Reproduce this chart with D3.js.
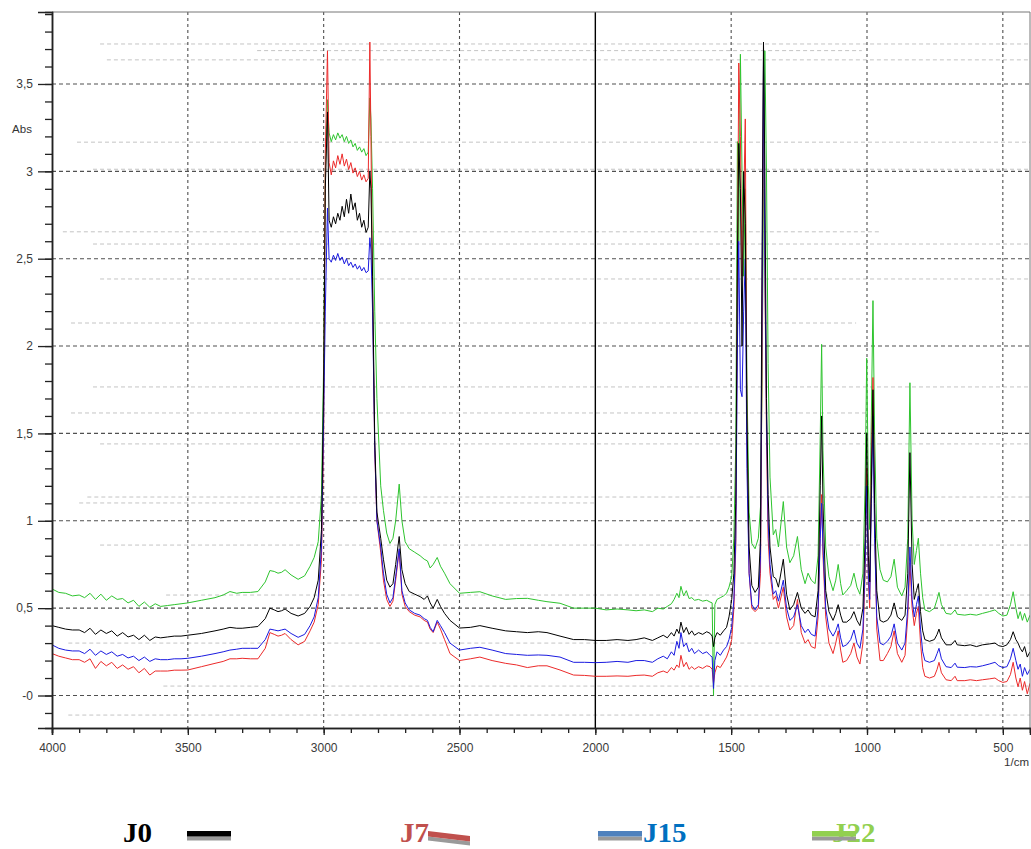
<!DOCTYPE html>
<html>
<head>
<meta charset="utf-8">
<script src="https://cdn.jsdelivr.net/npm/d3@7"></script>
<style>
html, body { margin: 0; padding: 0; background: #fff; }
svg { display: block; }
</style>
</head>
<body>
<svg width="1031" height="849"></svg>
<script>
// wavenumbers (1/cm), shared by the four spectra
const wavenumbers = [
  // 4000 - 3000
  4000, 3975, 3950, 3925, 3900, 3880, 3860, 3840, 3820, 3800,
  3780, 3760, 3740, 3720, 3700, 3680, 3660, 3640, 3620, 3600,
  3575, 3550, 3525, 3500, 3450, 3400, 3370, 3345, 3320, 3300,
  3270, 3242, 3215, 3198, 3182, 3168, 3155, 3142, 3120, 3094,
  3070, 3050, 3035, 3020, 3008, 3000,
  // C-H band
  2994, 2986, 2980, 2972, 2964, 2956, 2948, 2940, 2932, 2924,
  2916, 2908, 2900, 2892, 2884, 2876, 2868, 2860, 2852, 2844,
  2836, 2830, 2826, 2820, 2812, 2804,
  // 2800 - 2000
  2790, 2780, 2768, 2756, 2745, 2735, 2722, 2712, 2700, 2685,
  2665, 2645, 2630, 2618, 2608, 2597, 2582, 2570, 2555, 2535,
  2500, 2460, 2425, 2380, 2330, 2290, 2250, 2210, 2178, 2130,
  2080, 2040, 2000,
  // 2000 - 1490
  1960, 1920, 1880, 1850, 1820, 1790, 1770, 1750, 1735, 1720,
  1710, 1700, 1692, 1685, 1675, 1665, 1655, 1645, 1635, 1620,
  1605, 1590, 1578, 1570, 1565, 1560, 1552, 1540, 1528, 1517,
  1508, 1498, 1490,
  // fingerprint
  1483, 1477, 1472, 1466, 1460, 1454, 1448, 1442, 1434, 1424,
  1412, 1400, 1392, 1386, 1381, 1376, 1370, 1364, 1357, 1345,
  1336, 1326, 1308, 1296, 1284, 1270, 1256, 1242, 1228, 1217,
  1205, 1191, 1180, 1172, 1167, 1162, 1152, 1140, 1125, 1115,
  1106, 1097, 1089, 1075, 1060, 1048, 1037, 1026, 1015, 1007,
  1001, 995, 990, 984, 978, 972, 964, 952, 940, 925,
  912, 900, 888, 872, 860, 850, 842, 834, 826, 818,
  811, 803, 795, 787, 770, 752, 742, 735, 726, 709,
  690, 676, 668, 640, 620, 597, 575, 550, 529, 515,
  500, 485, 472, 462, 452, 444, 436, 428, 420, 410,
  400
];

const absJ0 = [
  0.40, 0.39, 0.38, 0.375, 0.375, 0.36, 0.385, 0.35, 0.375, 0.355,
  0.37, 0.34, 0.36, 0.335, 0.345, 0.32, 0.345, 0.315, 0.335, 0.33,
  0.335, 0.34, 0.34, 0.345, 0.355, 0.37, 0.38, 0.39, 0.385, 0.385,
  0.39, 0.395, 0.44, 0.50, 0.49, 0.48, 0.485, 0.495, 0.47, 0.455,
  0.47, 0.51, 0.56, 0.66, 0.95, 1.8,
  2.9, 3.34, 2.72, 2.68, 2.74, 2.70, 2.76, 2.72, 2.80, 2.74,
  2.84, 2.76, 2.87, 2.78, 2.82, 2.72, 2.76, 2.68, 2.72, 2.65,
  2.68, 3.0, 2.9, 2.4, 1.46, 1.05,
  0.9, 0.78, 0.66, 0.62, 0.64, 0.75, 0.91, 0.72, 0.64, 0.595,
  0.58, 0.566, 0.55, 0.57, 0.53, 0.50, 0.55, 0.51, 0.47, 0.43,
  0.386, 0.39, 0.40, 0.385, 0.37, 0.365, 0.36, 0.365, 0.36, 0.34,
  0.32, 0.32, 0.315,
  0.315, 0.32, 0.315, 0.32, 0.33, 0.315, 0.33, 0.345, 0.33, 0.36,
  0.34, 0.38, 0.355, 0.42, 0.36, 0.39, 0.35, 0.37, 0.345, 0.36,
  0.35, 0.365, 0.356, 0.34, 0.28, 0.33, 0.36, 0.345, 0.37, 0.39,
  0.45, 0.55, 0.7,
  1.1, 2.5, 3.16, 2.9, 2.0, 3.0, 2.7, 1.6, 0.85, 0.63,
  0.59, 0.62, 0.9, 2.6, 3.74, 3.0, 1.7, 1.15, 0.85, 0.68,
  0.67, 0.62, 0.78, 0.58, 0.49, 0.52, 0.59, 0.50, 0.47, 0.49,
  0.46, 0.45, 0.6, 1.2, 1.6, 1.1, 0.6, 0.48, 0.43, 0.47,
  0.52, 0.46, 0.42, 0.42, 0.44, 0.48, 0.43, 0.40, 0.5, 0.9,
  1.5, 0.8, 0.65, 1.2, 1.75, 1.1, 0.6, 0.43, 0.42, 0.43,
  0.46, 0.53, 0.45, 0.43, 0.46, 0.7, 1.39, 0.75, 0.55, 0.6,
  0.64, 0.48, 0.37, 0.32, 0.31, 0.32, 0.35, 0.38, 0.33, 0.29,
  0.29, 0.315, 0.29, 0.285, 0.29, 0.28, 0.29, 0.295, 0.30, 0.285,
  0.28, 0.29, 0.32, 0.365, 0.32, 0.30, 0.27, 0.25, 0.28, 0.22,
  0.25
];

const absJ7 = [
  0.24, 0.225, 0.215, 0.205, 0.205, 0.19, 0.21, 0.155, 0.195, 0.17,
  0.19, 0.155, 0.175, 0.15, 0.165, 0.13, 0.155, 0.117, 0.14, 0.14,
  0.14, 0.145, 0.145, 0.146, 0.165, 0.184, 0.195, 0.21, 0.21, 0.213,
  0.21, 0.21, 0.27, 0.36, 0.35, 0.34, 0.345, 0.355, 0.32, 0.29,
  0.31, 0.37, 0.42, 0.52, 0.78, 1.5,
  3.1, 3.69, 3.05, 2.98, 3.06, 3.02, 3.09, 3.04, 3.1, 3.03,
  3.07, 3.01, 3.05, 2.99, 3.02, 2.97, 3.0, 2.95, 2.98, 2.94,
  2.96, 3.74, 3.2, 2.3, 1.4, 1.0,
  0.82, 0.66, 0.55, 0.51, 0.54, 0.66, 0.83, 0.58, 0.51, 0.48,
  0.46, 0.45, 0.43, 0.42, 0.38, 0.36, 0.42, 0.38, 0.32, 0.24,
  0.20, 0.21, 0.22, 0.20, 0.184, 0.175, 0.16, 0.17, 0.17, 0.146,
  0.117, 0.115, 0.11,
  0.11, 0.112, 0.11, 0.115, 0.117, 0.11, 0.13, 0.14, 0.13, 0.16,
  0.145, 0.175, 0.16, 0.23, 0.165, 0.19, 0.15, 0.165, 0.15, 0.165,
  0.155, 0.17, 0.165, 0.15, 0.07, 0.13, 0.17, 0.16, 0.19, 0.22,
  0.26, 0.32, 0.5,
  0.85, 2.4, 3.62, 3.2, 2.4, 2.8, 3.30, 1.5, 0.7, 0.5,
  0.48, 0.5, 0.7, 2.0, 3.6, 2.4, 1.5, 0.9, 0.7, 0.55,
  0.57, 0.5, 0.62, 0.45, 0.375, 0.40, 0.55, 0.36, 0.30, 0.32,
  0.28, 0.27, 0.45, 0.95, 1.15, 0.8, 0.45, 0.3, 0.24, 0.3,
  0.37, 0.26, 0.19, 0.2, 0.24, 0.30, 0.22, 0.18, 0.3, 0.7,
  1.3, 0.65, 0.5, 1.3, 1.82, 1.0, 0.38, 0.20, 0.2, 0.24,
  0.28, 0.37, 0.24, 0.19, 0.23, 0.45, 0.76, 0.5, 0.40, 0.47,
  0.51, 0.3, 0.16, 0.11, 0.1, 0.11, 0.15, 0.19, 0.13, 0.09,
  0.085, 0.11, 0.085, 0.085, 0.09, 0.085, 0.09, 0.095, 0.10, 0.085,
  0.075, 0.08, 0.12, 0.19, 0.1, 0.05, 0.1, 0.03, 0.08, 0.01,
  0.07
];

const absJ15 = [
  0.29, 0.27, 0.26, 0.255, 0.255, 0.24, 0.265, 0.23, 0.255, 0.235,
  0.25, 0.225, 0.235, 0.215, 0.225, 0.2, 0.22, 0.195, 0.21, 0.205,
  0.205, 0.21, 0.21, 0.213, 0.225, 0.24, 0.25, 0.26, 0.265, 0.27,
  0.27, 0.27, 0.32, 0.38, 0.375, 0.37, 0.375, 0.38, 0.355, 0.333,
  0.35, 0.40, 0.45, 0.56, 0.85, 1.6,
  2.2, 2.79, 2.5, 2.48, 2.52, 2.49, 2.53, 2.49, 2.51, 2.47,
  2.5, 2.46, 2.48, 2.45, 2.47, 2.44, 2.46, 2.43, 2.45, 2.42,
  2.43, 2.62, 2.55, 2.2, 1.42, 1.0,
  0.85, 0.7, 0.58, 0.53, 0.56, 0.68, 0.84, 0.6, 0.53, 0.49,
  0.47, 0.46, 0.44, 0.43, 0.39, 0.365, 0.43, 0.40, 0.36, 0.30,
  0.26, 0.27, 0.276, 0.26, 0.24, 0.235, 0.23, 0.232, 0.23, 0.22,
  0.19, 0.19, 0.188,
  0.19, 0.195, 0.19, 0.2, 0.2, 0.19, 0.21, 0.225, 0.21, 0.25,
  0.23, 0.31, 0.27, 0.36, 0.28, 0.30, 0.25, 0.27, 0.24, 0.26,
  0.24, 0.25, 0.23, 0.22, 0.04, 0.2, 0.25, 0.23, 0.26, 0.28,
  0.32, 0.39, 0.55,
  0.9, 2.0, 2.6, 1.75, 1.71, 2.2, 2.5, 1.3, 0.7, 0.52,
  0.49, 0.52, 0.8, 2.3, 3.65, 2.5, 1.6, 1.0, 0.75, 0.58,
  0.60, 0.54, 0.66, 0.50, 0.43, 0.45, 0.52, 0.40, 0.36, 0.38,
  0.35, 0.34, 0.5, 0.9, 1.1, 0.85, 0.5, 0.38, 0.34, 0.37,
  0.41, 0.33, 0.28, 0.29, 0.32, 0.375, 0.3, 0.27, 0.38, 0.75,
  1.2, 0.7, 0.55, 1.1, 1.6, 0.9, 0.45, 0.30, 0.29, 0.31,
  0.34, 0.41, 0.3, 0.26, 0.3, 0.5, 0.85, 0.55, 0.45, 0.52,
  0.57, 0.38, 0.25, 0.20, 0.19, 0.2, 0.24, 0.27, 0.21, 0.165,
  0.16, 0.185, 0.162, 0.16, 0.165, 0.163, 0.17, 0.18, 0.19, 0.17,
  0.16, 0.165, 0.21, 0.27, 0.2, 0.15, 0.18, 0.11, 0.16, 0.12,
  0.15
];

const absJ22 = [
  0.61, 0.59, 0.585, 0.57, 0.575, 0.56, 0.585, 0.55, 0.58, 0.545,
  0.57, 0.55, 0.555, 0.53, 0.545, 0.51, 0.535, 0.505, 0.525, 0.51,
  0.515, 0.52, 0.525, 0.53, 0.545, 0.56, 0.575, 0.595, 0.585, 0.59,
  0.59, 0.595, 0.65, 0.715, 0.71, 0.70, 0.705, 0.72, 0.69, 0.665,
  0.685, 0.74, 0.79, 0.88, 1.15, 1.9,
  3.0, 3.41, 3.22, 3.17, 3.21, 3.18, 3.22, 3.19, 3.21, 3.17,
  3.2, 3.16, 3.18, 3.14, 3.16, 3.12, 3.14, 3.11, 3.13, 3.09,
  3.11, 3.42, 3.3, 2.9, 2.2, 1.7,
  1.2, 1.06, 0.93, 0.87, 0.9, 1.0, 1.21, 1.0, 0.88, 0.84,
  0.82, 0.80, 0.78, 0.77, 0.73, 0.75, 0.79, 0.74, 0.70, 0.64,
  0.585, 0.59, 0.594, 0.57, 0.55, 0.555, 0.556, 0.545, 0.537, 0.528,
  0.50, 0.50, 0.50,
  0.49, 0.495, 0.49, 0.485, 0.49, 0.48, 0.5, 0.495, 0.51, 0.525,
  0.55, 0.585, 0.56, 0.625, 0.57, 0.6, 0.555, 0.56, 0.545, 0.55,
  0.54, 0.545, 0.535, 0.53, 0.0, 0.52, 0.55, 0.56, 0.57, 0.585,
  0.62, 0.68, 0.9,
  1.44, 3.17, 2.6, 3.67, 3.0, 2.4, 2.9, 1.8, 1.05, 0.87,
  0.84, 0.9, 1.08, 1.8, 2.9, 3.69, 3.0, 1.9, 1.25, 0.92,
  0.95, 0.85, 1.11, 0.85, 0.76, 0.80, 0.91, 0.72, 0.64, 0.70,
  0.66, 0.64, 0.8, 1.5, 2.01, 1.4, 0.85, 0.68, 0.60, 0.66,
  0.75, 0.64, 0.575, 0.6, 0.63, 0.70, 0.62, 0.58, 0.7, 1.2,
  1.93, 1.2, 0.95, 1.6, 2.26, 1.5, 0.9, 0.72, 0.66, 0.65,
  0.68, 0.78, 0.62, 0.57, 0.62, 0.9, 1.79, 1.0, 0.75, 0.83,
  0.90, 0.7, 0.56, 0.49, 0.48, 0.5, 0.55, 0.59, 0.52, 0.47,
  0.465, 0.49, 0.465, 0.46, 0.465, 0.46, 0.47, 0.48, 0.49, 0.47,
  0.455, 0.46, 0.52, 0.594, 0.5, 0.44, 0.48, 0.43, 0.47, 0.42,
  0.46
];

// axis ticks and labels
const xMajorTicks = [4000, 3500, 3000, 2500, 2000, 1500, 1000, 500];
const xTickLabels = ["4000", "3500", "3000", "2500", "2000", "1500", "1000", "500"];
const yMajorTicks = [0, 0.5, 1, 1.5, 2, 2.5, 3, 3.5];
const yTickLabels = ["-0", "0,5", "1", "1,5", "2", "2,5", "3", "3,5"];

// faint dashed reference lines: [absorbance, from cm-1, to cm-1]
const faintLines = [
  [3.729, 3823, 400], [3.691, 3245, 1019], [3.638, 3798, 400], [3.167, 3908, 400],
  [3.012, 3849, 400], [2.654, 3960, 952], [2.584, 3849, 400], [2.384, 3823, 400],
  [2.132, 3930, 1040], [1.766, 3849, 400], [1.617, 3930, 1000], [1.44, 3823, 400],
  [1.136, 3870, 400], [1.102, 3900, 2000], [0.861, 3823, 400], [0.575, 3580, 400],
  [0.300, 3940, 400], [0.054, 3590, 400], [-0.112, 3940, 400]
];

// legend
const legendLabels = ["J0", "J7", "J15", "J22"];
const legendTextColors = ["#000000", "#c0504d", "#0070c0", "#92d050"];
const legendLineColors = ["#000000", "#c0504d", "#4f81bd", "#92d050"];

const series = [
  {name: "J22", color: "#2ec42e", values: absJ22},
  {name: "J7",  color: "#ec2a2a", values: absJ7},
  {name: "J15", color: "#1a1ae0", values: absJ15},
  {name: "J0",  color: "#000000", values: absJ0}
];

const svg = d3.select("svg");
const plotLeft = 52, plotRight = 1030, plotTop = 12, plotBottom = 728;

const x = d3.scaleLinear().domain([4000, 400]).range([plotLeft, plotRight]);
const y = d3.scaleLinear().domain([-0.186, 3.912]).range([plotBottom, plotTop]);

svg.append("defs").append("clipPath").attr("id", "plot")
  .append("rect").attr("x", plotLeft).attr("y", plotTop)
  .attr("width", plotRight - plotLeft).attr("height", plotBottom - plotTop);

// faint lines
svg.append("g").selectAll("line").data(faintLines).join("line")
  .attr("x1", d => x(d[1])).attr("x2", d => Math.min(x(d[2]), plotRight))
  .attr("y1", d => y(d[0])).attr("y2", d => y(d[0]))
  .attr("stroke", "#c4c4c4").attr("stroke-width", 1)
  .attr("stroke-dasharray", "4,3");

// major grid
svg.append("g").selectAll("line").data(yMajorTicks).join("line")
  .attr("x1", plotLeft).attr("x2", plotRight)
  .attr("y1", d => y(d)).attr("y2", d => y(d))
  .attr("stroke", "#505050").attr("stroke-width", 1.1)
  .attr("stroke-dasharray", "4,3");

svg.append("g").selectAll("line").data(xMajorTicks.filter(d => d !== 4000)).join("line")
  .attr("x1", d => x(d)).attr("x2", d => x(d))
  .attr("y1", plotTop).attr("y2", plotBottom)
  .attr("stroke", d => d === 2000 ? "#000" : "#505050")
  .attr("stroke-width", d => d === 2000 ? 1.4 : 1.1)
  .attr("stroke-dasharray", d => d === 2000 ? null : "3,3");

// spectra
const line = d3.line()
  .x(d => x(d[0]))
  .y(d => y(d[1]));

svg.append("g").attr("clip-path", "url(#plot)")
  .selectAll("path").data(series).join("path")
  .attr("d", s => line(d3.zip(wavenumbers, s.values)))
  .attr("fill", "none")
  .attr("stroke", s => s.color)
  .attr("stroke-width", 1)
  .attr("stroke-linejoin", "round");

// frame
svg.append("path")
  .attr("d", `M ${plotLeft} ${plotTop} L ${plotRight} ${plotTop} L ${plotRight} ${plotBottom}`)
  .attr("fill", "none").attr("stroke", "#777").attr("stroke-width", 1);

// axes
const yMinor = d3.range(-1, 40).map(i => i / 10);
const xMinor = d3.range(4000, 399, -100);

const gy = svg.append("g").attr("transform", `translate(${plotLeft},0)`);
gy.call(d3.axisLeft(y).tickValues(yMinor).tickSize(7).tickFormat(""));
gy.append("g").call(d3.axisLeft(y).tickValues(yMajorTicks).tickSize(14).tickPadding(5)
  .tickFormat((d, i) => yTickLabels[i]));

const gx = svg.append("g").attr("transform", `translate(0,${plotBottom})`);
gx.call(d3.axisBottom(x).tickValues(xMinor).tickSize(5).tickFormat(""));
gx.append("g").call(d3.axisBottom(x).tickValues(xMajorTicks).tickSize(7).tickPadding(8)
  .tickFormat((d, i) => xTickLabels[i]));

svg.selectAll(".domain").attr("stroke", "#222").attr("stroke-width", 1.5);
svg.selectAll(".tick line").attr("stroke", "#222").attr("stroke-width", 1.3);
svg.selectAll(".tick text")
  .attr("font-family", "Liberation Sans, Arial, sans-serif")
  .attr("font-size", 12).attr("fill", "#3a3a3a");

svg.append("text").attr("x", 22).attr("y", 132.5)
  .attr("text-anchor", "middle")
  .attr("font-family", "Liberation Sans, Arial, sans-serif")
  .attr("font-size", 11.5).attr("fill", "#333").text("Abs");

svg.append("text").attr("x", 1029).attr("y", 766)
  .attr("text-anchor", "end")
  .attr("font-family", "Liberation Sans, Arial, sans-serif")
  .attr("font-size", 11.5).attr("fill", "#333").text("1/cm");

// legend (text then its swatch drawn over it, like the original)
const legendTextX = [123, 400, 643, 832];
const legendSwatch = [[187, 231, 0], [428, 470, 5], [598, 642, 0], [812, 856, 0]];
const lg = svg.append("g");
legendLabels.forEach((lab, i) => {
  lg.append("text").attr("x", legendTextX[i]).attr("y", 842)
    .attr("font-family", "Liberation Serif, Times New Roman, serif")
    .attr("font-weight", "bold").attr("font-size", 28)
    .attr("textLength", lab.length * 14.5).attr("lengthAdjust", "spacingAndGlyphs")
    .attr("fill", legendTextColors[i]).text(lab);
  const [x1, x2, slant] = legendSwatch[i];
  lg.append("path")
    .attr("d", `M ${x1} ${836.5} L ${x2} ${836.5 + slant} L ${x2} ${840.5 + slant} L ${x1} ${840.5} Z`)
    .attr("fill", "#9a9a9a");
  lg.append("path")
    .attr("d", `M ${x1} ${831} L ${x2} ${831 + slant} L ${x2} ${836.5 + slant} L ${x1} ${836.5} Z`)
    .attr("fill", legendLineColors[i]);
});
</script>
</body>
</html>
